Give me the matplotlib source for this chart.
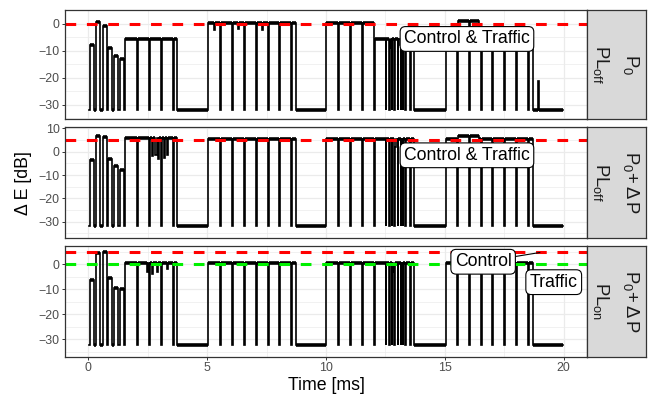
import numpy as np
import matplotlib
matplotlib.use("Agg")
import matplotlib.pyplot as plt
from matplotlib.ticker import MultipleLocator

plt.rcParams["font.family"] = ["Liberation Sans", "DejaVu Sans"]
plt.rcParams["mathtext.fontset"] = "custom"
plt.rcParams["mathtext.rm"] = "Liberation Sans"
plt.rcParams["mathtext.it"] = "Liberation Sans"
plt.rcParams["mathtext.bf"] = "Liberation Sans:bold"

# ---- data ----------------------------------------------------------------
T_START, T_END = 0.05, 19.97
floors = [-31.8, -32.0, -32.3]

# active parts (start ms, end ms, level dB), one list per panel
seg_p1 = [(0.08, 0.26, -8), (0.34, 0.50, 0.5), (0.62, 0.78, -1),
          (0.82, 1.00, -9), (1.09, 1.27, -12), (1.32, 1.51, -13),
          (1.56, 3.74, -5.8), (5.05, 8.74, 0.3), (10.0, 12.0, 0.3),
          (12.0, 13.71, -5.8), (15.03, 15.55, -5.5), (15.55, 16.45, 0.8),
          (16.45, 18.71, -5.5), (18.90, 18.94, -21)]
seg_p2 = [(0.08, 0.26, -3.5), (0.34, 0.50, 6.8), (0.62, 0.78, 6.2),
          (0.82, 1.00, -3), (1.09, 1.27, -6), (1.32, 1.51, -7.8),
          (1.56, 3.74, 5.8), (5.05, 8.74, 5.6), (10.0, 13.71, 5.6),
          (15.03, 15.55, 5.6), (15.55, 16.45, 6.8), (16.45, 18.71, 5.6)]
seg_p3 = [(0.08, 0.26, -6.3), (0.34, 0.50, 4.5), (0.62, 0.78, 5),
          (0.82, 1.00, -5.5), (1.09, 1.27, -9.5), (1.32, 1.51, -10),
          (1.56, 3.74, 0.4), (5.05, 8.74, 0.5), (10.0, 13.71, 0.4),
          (15.03, 18.71, 0.4)]

# short drops to the noise floor (same pattern in every panel)
dips = [2.04, 2.55, 3.05, 3.56,
        5.55, 6.05, 6.55, 7.05, 7.55, 8.04, 8.53,
        10.52, 11.03, 11.53, 12.02, 12.51, 12.66, 12.76, 12.87, 13.01,
        13.14, 13.22, 13.32, 13.53,
        15.52, 16.01, 16.51, 17.0, 17.49, 18.01, 18.5]
DIP_W = 0.035

# short sags inside an active part (time ms, level dB)
sag_p1 = [(5.3, -2.5), (6.3, -2), (7.3, -2.5), (12.7, -9), (13.1, -8)]
sag_p2 = [(2.68, -2), (2.82, -1.5), (2.92, -3), (3.17, -2.5), (3.32, -1.5),
          (12.9, 2)]
sag_p3 = [(2.45, -3), (2.68, -4), (2.9, -3), (3.3, -2), (12.8, -3)]
SAG_W = 0.05

ref_red = [0, 5, 5]
ref_green = [None, None, 0]
ylims = [(-35.3, 5.04), (-37.1, 10.44), (-36.96, 7.3)]
yticks = [[-30, -20, -10, 0], [-30, -20, -10, 0, 10], [-30, -20, -10, 0]]
strip_top = [r"$P_0$", r"$P_0\!+\Delta\,P$", r"$P_0\!+\Delta\,P$"]
strip_bot = [r"$PL_{off}$", r"$PL_{off}$", r"$PL_{on}$"]


def trace(segs, sags, floor):
    edges = {T_START, T_END}
    for s, e, _ in segs:
        edges |= {s, e}
    for d in dips:
        edges |= {d, d + DIP_W}
    for d, _ in sags:
        edges |= {d, d + SAG_W}
    ts = np.array(sorted(edges))
    vals = []
    for a, b in zip(ts[:-1], ts[1:]):
        m = 0.5 * (a + b)
        v = floor
        for s, e, lev in segs:
            if s <= m < e:
                v = lev
        if v != floor:
            for d, lev in sags:
                if d <= m < d + SAG_W:
                    v = lev
            for d in dips:
                if d <= m < d + DIP_W:
                    v = floor
        vals.append(v)
    vals.append(floor)
    return ts, np.array(vals)


W, H = 654, 396
fig = plt.figure(figsize=(W / 100, H / 100), dpi=100)
px_l, px_r, px_s = 65, 587, 646
rows = [(10, 119.3), (127.3, 238.3), (246, 356.7)]
grid_c = "#EBEBEB"
edge_c = "#333333"

segs_all = [seg_p1, seg_p2, seg_p3]
sags_all = [sag_p1, sag_p2, sag_p3]
axes = []
for i, (top, bot) in enumerate(rows):
    ax = fig.add_axes([px_l / W, 1 - bot / H, (px_r - px_l) / W, (bot - top) / H])
    axes.append(ax)
    ax.set_xlim(-0.98, 20.98)
    ax.set_ylim(*ylims[i])
    ax.set_axisbelow(True)
    ax.xaxis.set_major_locator(MultipleLocator(5))
    ax.xaxis.set_minor_locator(MultipleLocator(2.5))
    ax.set_yticks(yticks[i])
    ax.yaxis.set_minor_locator(MultipleLocator(5))
    ax.grid(which="major", color=grid_c, lw=0.9)
    ax.grid(which="minor", color=grid_c, lw=0.5)
    ax.tick_params(which="minor", length=0)
    ax.tick_params(axis="y", which="major", length=2.2, width=0.7, color=edge_c,
                   labelsize=8.9, labelcolor="#4D4D4D", pad=1.5)
    if i < 2:
        ax.tick_params(axis="x", which="major", bottom=False, labelbottom=False)
    else:
        ax.tick_params(axis="x", which="major", length=2.2, width=0.7, color=edge_c,
                       labelsize=8.9, labelcolor="#4D4D4D", pad=1.5)
    for sp in ax.spines.values():
        sp.set_color(edge_c)
        sp.set_linewidth(0.9)

    ts, vs = trace(segs_all[i], sags_all[i], floors[i])
    ax.plot(ts, vs, drawstyle="steps-post", color="black", lw=1.2,
            solid_joinstyle="miter")
    # flat stretches look like a thick band in the measurement
    flat = (ts[1:] - ts[:-1]) > 0.06
    ax.hlines(vs[:-1][flat], ts[:-1][flat], ts[1:][flat], color="black",
              lw=2.6, capstyle="butt")
    ax.axhline(ref_red[i], color="#FF0000", lw=2.2, dashes=(3.5, 3.5))
    if ref_green[i] is not None:
        ax.axhline(ref_green[i], color="#00F000", lw=2.2, dashes=(3.5, 3.5))

    # strip on the right
    sx = fig.add_axes([px_r / W, 1 - bot / H, (px_s - px_r) / W, (bot - top) / H])
    sx.set_facecolor("#D9D9D9")
    sx.set_xticks([])
    sx.set_yticks([])
    for sp in sx.spines.values():
        sp.set_color(edge_c)
        sp.set_linewidth(0.9)
    sx.text(0.74, 0.5, strip_top[i], rotation=270, ha="center", va="center",
            fontsize=13.3, color="#1A1A1A", transform=sx.transAxes)
    sx.text(0.23, 0.5, strip_bot[i], rotation=270, ha="center", va="center",
            fontsize=13.3, color="#1A1A1A", transform=sx.transAxes)

box = dict(boxstyle="round,pad=0.22,rounding_size=0.3", fc="white", ec="black", lw=0.8)
axes[0].text(15.93, -5.65, "Control & Traffic", ha="center", va="center",
             fontsize=12.7, bbox=box)
axes[1].text(15.93, -1.55, "Control & Traffic", ha="center", va="center",
             fontsize=12.7, bbox=box)
axes[2].annotate("Control", xy=(19.0, 4.7), xytext=(16.61, 1.0), ha="center",
                 va="center", fontsize=12.7, bbox=box,
                 arrowprops=dict(arrowstyle="-", color="black", lw=0.8,
                                 shrinkA=0, shrinkB=0))
axes[2].text(19.58, -7.16, "Traffic", ha="center", va="center",
             fontsize=12.7, bbox=box)

fig.text(24 / W, 1 - 183.5 / H, "\u0394 E [dB]", rotation=90, ha="center",
         va="center", fontsize=12.8)
fig.text(326 / W, 1 - 385 / H, "Time [ms]", ha="center", va="center", fontsize=12.8)

fig.savefig("out.png", dpi=100)
